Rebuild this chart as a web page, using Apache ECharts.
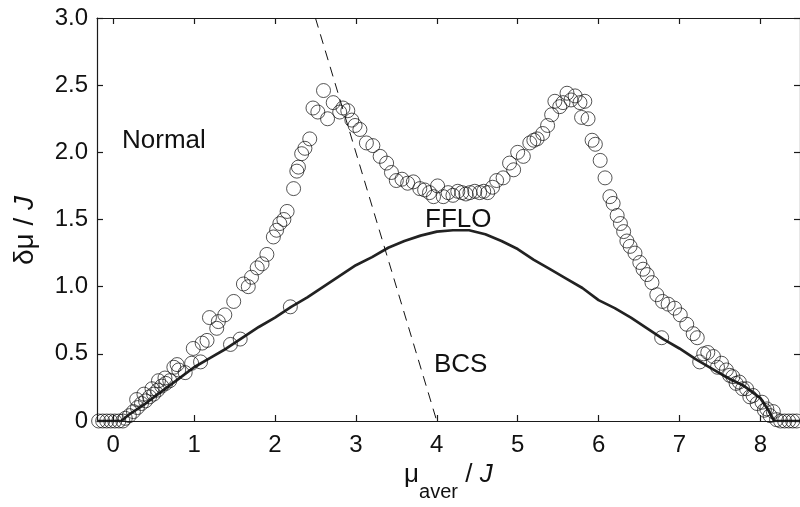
<!DOCTYPE html>
<html>
<head>
<meta charset="utf-8">
<script src="https://cdn.jsdelivr.net/npm/echarts@6/dist/echarts.min.js"></script>
<style>html,body{margin:0;padding:0;background:#fff}#c{width:800px;height:507px}</style>
</head>
<body>
<div id="c"></div>
<script>
// x tick values and y tick labels
const xTicks = [0, 1, 2, 3, 4, 5, 6, 7, 8];
const yTicks = [0, 0.5, 1.0, 1.5, 2.0, 2.5, 3.0];
const yTickLabels = ['0', '0.5', '1.0', '1.5', '2.0', '2.5', '3.0'];

// open circles (numerical data)
const circleX = [-0.18,-0.13,-0.08,-0.03,0.02,0.07,0.12,
 0.15,0.2,0.25,0.3,0.35,0.4,0.45,0.5,0.55,0.6,0.65,0.7,
 0.29,0.38,0.48,0.56,0.64,0.75,0.79,0.81,0.89,0.97,0.99,1.08,1.10,1.16,1.19,1.28,1.30,1.38,1.45,1.49,1.57,
 1.61,1.67,1.71,1.78,1.84,1.90,1.98,2.02,2.06,2.11,2.15,2.19,2.23,2.27,2.29,2.33,2.37,2.43,2.47,2.53,2.60,
 2.65,2.72,2.80,2.84,2.90,2.95,2.99,3.05,3.13,3.21,3.30,3.38,3.44,3.50,3.57,3.64,3.71,3.79,3.85,3.91,3.96,
 4.01,4.08,4.14,4.20,4.26,4.31,4.36,4.41,4.47,4.53,4.58,4.63,4.69,4.74,4.82,4.90,4.95,5.00,5.07,5.15,5.20,
 5.24,5.31,5.37,5.42,5.46,5.52,5.56,5.61,5.66,5.71,5.77,5.83,5.79,5.87,5.92,5.96,6.02,6.08,6.14,6.18,6.23,
 6.27,6.31,6.35,6.39,6.45,6.51,6.55,6.60,6.66,6.72,6.79,6.86,6.94,7.01,7.09,7.17,7.22,6.78,7.25,7.30,7.35,
 7.42,7.47,7.52,7.58,7.62,7.66,7.70,7.74,7.78,7.83,7.87,7.91,7.96,8.02,8.05,8.08,8.12,8.16,8.20,8.25,8.30,
 8.35,8.40,8.45];
const circleY = [0,0,0,0,0,0,0,
 0.02,0.04,0.07,0.10,0.13,0.15,0.18,0.20,0.23,0.26,0.28,0.30,
 0.16,0.20,0.24,0.30,0.32,0.40,0.42,0.38,0.36,0.43,0.54,0.44,0.58,0.60,0.77,0.69,0.74,0.79,0.57,0.89,0.61,
 1.02,1.00,1.07,1.14,1.17,1.24,1.37,1.42,1.47,1.50,1.56,0.85,1.73,1.86,1.89,1.99,2.03,2.10,2.33,2.30,2.46,
 2.25,2.37,2.30,2.33,2.31,2.24,2.20,2.17,2.07,2.05,1.97,1.92,1.85,1.79,1.80,1.77,1.78,1.73,1.72,1.70,1.67,
 1.75,1.67,1.70,1.68,1.71,1.70,1.69,1.70,1.71,1.70,1.71,1.70,1.74,1.79,1.81,1.92,1.87,2.00,1.97,2.07,2.09,
 2.10,2.14,2.20,2.28,2.38,2.34,2.37,2.44,2.39,2.42,2.37,2.38,2.26,2.25,2.09,2.06,1.94,1.81,1.67,1.62,1.53,
 1.47,1.41,1.34,1.30,1.25,1.18,1.13,1.09,1.03,0.94,0.89,0.87,0.84,0.79,0.72,0.65,0.62,0.62,0.44,0.50,0.51,
 0.48,0.40,0.43,0.38,0.34,0.33,0.28,0.29,0.24,0.24,0.18,0.19,0.13,0.14,0.08,0.09,0.04,0.07,0.01,0,0,
 0,0,0];

// BCS-FFLO boundary (small dots curve)
const lineX = [-0.2,0,0.1,0.2,0.4,0.6,0.8,1.0,1.2,1.4,1.6,1.8,2.0,2.2,2.4,2.6,2.8,3.0,3.2,3.4,3.6,3.8,4.0,4.2,4.4,4.6,4.8,5.0,5.2,5.4,5.6,5.8,6.0,6.2,6.4,6.6,6.8,7.0,7.2,7.4,7.6,7.8,8.0,8.1,8.17,8.3,8.49];
const lineY = [0,0,0,0.05,0.13,0.22,0.31,0.40,0.47,0.54,0.62,0.70,0.77,0.85,0.92,1.00,1.08,1.16,1.22,1.29,1.34,1.38,1.41,1.42,1.42,1.39,1.34,1.28,1.20,1.13,1.06,0.99,0.90,0.84,0.77,0.69,0.61,0.54,0.46,0.39,0.32,0.26,0.17,0.08,0,0,0];

// dashed BCS / Normal boundary
const dashX = [2.5, 4.0];
const dashY = [3.0, 0];

const FONT = 'Liberation Sans, Arial, Helvetica, sans-serif';
const zip = (a, b) => a.map((v, i) => [v, b[i]]);

const chart = echarts.init(document.getElementById('c'), null, {renderer: 'canvas'});
const axisLineStyle = {color: '#1a1a1a', width: 1.2};
const baseX = {
  type: 'value', min: -0.2, max: 8.49,
  axisLine: {show: true, onZero: false, lineStyle: axisLineStyle},
  axisTick: {show: true, inside: true, length: 6, customValues: xTicks, lineStyle: axisLineStyle},
  splitLine: {show: false}
};
const baseY = {
  type: 'value', min: 0, max: 3, interval: 0.5,
  axisLine: {show: true, onZero: false, lineStyle: axisLineStyle},
  axisTick: {show: true, inside: true, length: 6, lineStyle: axisLineStyle},
  splitLine: {show: false}
};

chart.setOption({
  animation: false,
  backgroundColor: '#fff',
  grid: {left: 97, top: 18, right: 0, bottom: 74, containLabel: false},
  xAxis: [
    Object.assign({}, baseX, {
      position: 'bottom',
      axisLabel: {show: true, customValues: xTicks, margin: 12, color: '#111', fontSize: 24, fontFamily: FONT},
      name: '{m|μ}{s|aver}{m| / }{j|J}{h| }',
      nameLocation: 'middle', nameGap: 41,
      nameTextStyle: {
        color: '#111', fontFamily: FONT,
        rich: {
          m: {fontSize: 26, lineHeight: 26, verticalAlign: 'top', fontFamily: FONT, color: '#111'},
          s: {fontSize: 20, lineHeight: 20, verticalAlign: 'bottom', fontFamily: FONT, color: '#111'},
          j: {fontSize: 26, lineHeight: 26, verticalAlign: 'top', fontStyle: 'italic', fontFamily: FONT, color: '#111'},
          h: {fontSize: 1, lineHeight: 40, verticalAlign: 'middle'}
        }
      }
    }),
    Object.assign({}, baseX, {position: 'top', axisLabel: {show: false}})
  ],
  yAxis: [
    Object.assign({}, baseY, {
      position: 'left',
      axisLabel: {show: true, margin: 9, color: '#111', fontSize: 24, fontFamily: FONT,
        formatter: v => { const i = yTicks.findIndex(t => Math.abs(t - v) < 1e-6); return i >= 0 ? yTickLabels[i] : ''; }},
      name: '{d|δμ / }{j|J}',
      nameLocation: 'middle', nameGap: 58, nameRotate: 90,
      nameTextStyle: {
        color: '#111', fontFamily: FONT, padding: [0, 22, 0, 0],
        rich: {
          d: {fontSize: 28, fontFamily: FONT, color: '#111'},
          j: {fontSize: 28, fontStyle: 'italic', fontFamily: FONT, color: '#111'}
        }
      }
    }),
    Object.assign({}, baseY, {position: 'right', axisLabel: {show: false}})
  ],
  series: [
    {
      type: 'line', xAxisIndex: 0, yAxisIndex: 0,
      data: zip(lineX, lineY),
      showSymbol: false, symbol: 'none',
      lineStyle: {color: '#222', width: 2.7},
      z: 2
    },
    {
      type: 'line', xAxisIndex: 0, yAxisIndex: 0,
      data: zip(dashX, dashY),
      showSymbol: false, symbol: 'none',
      lineStyle: {color: '#111', width: 1, type: [10, 7]},
      z: 2
    },
    {
      type: 'scatter', xAxisIndex: 0, yAxisIndex: 0,
      data: zip(circleX, circleY),
      symbol: 'circle', symbolSize: 14,
      itemStyle: {color: 'rgba(0,0,0,0)', borderColor: '#111', borderWidth: 0.9},
      z: 3
    }
  ],
  graphic: [
    {type: 'text', left: 122, top: 128, style: {text: 'Normal', fontSize: 26, fontFamily: FONT, fill: '#111'}, z: 10},
    {type: 'text', left: 425, top: 207, style: {text: 'FFLO', fontSize: 26, fontFamily: FONT, fill: '#111'}, z: 10},
    {type: 'text', left: 434, top: 352, style: {text: 'BCS', fontSize: 26, fontFamily: FONT, fill: '#111'}, z: 10}
  ]
});
</script>
</body>
</html>
